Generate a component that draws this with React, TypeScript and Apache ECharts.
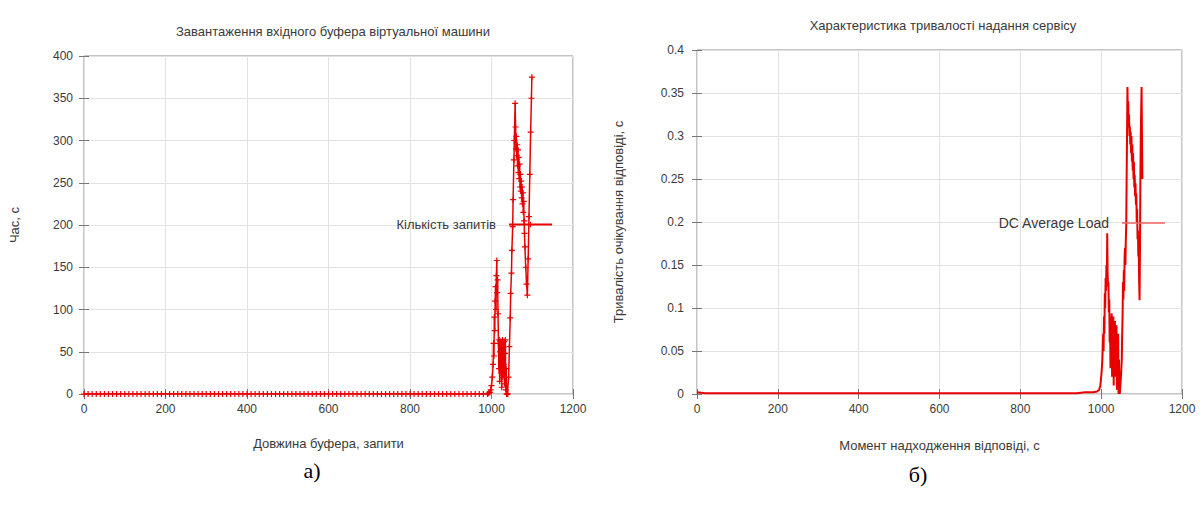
import React, { useEffect, useRef } from "react";
import * as echarts from "echarts";

// ---------- data ----------
const leftTitle = "Завантаження вхідного буфера віртуальної машини";
const rightTitle = "Характеристика тривалості надання сервісу";
const leftXName = "Довжина буфера, запити";
const leftYName = "Час, с";
const rightXName = "Момент надходження відповіді, с";
const rightYName = "Тривалість очікування відповіді, с";
const leftSeriesName = "Кількість запитів";
const rightSeriesName = "DC Average Load";
const panelLabels = ["а)", "б)"];

// buffer load (left panel): [request index, time s]
const bufferBaseline: number[][] = [
  [0, 0], [10, 0], [20, 0], [30, 0], [40, 0], [50, 0], [60, 0], [70, 0], [80, 0], [90, 0],
  [100, 0], [110, 0], [120, 0], [130, 0], [140, 0], [150, 0], [160, 0], [170, 0], [180, 0], [190, 0],
  [200, 0], [210, 0], [220, 0], [230, 0], [240, 0], [250, 0], [260, 0], [270, 0], [280, 0], [290, 0],
  [300, 0], [310, 0], [320, 0], [330, 0], [340, 0], [350, 0], [360, 0], [370, 0], [380, 0], [390, 0],
  [400, 0], [410, 0], [420, 0], [430, 0], [440, 0], [450, 0], [460, 0], [470, 0], [480, 0], [490, 0],
  [500, 0], [510, 0], [520, 0], [530, 0], [540, 0], [550, 0], [560, 0], [570, 0], [580, 0], [590, 0],
  [600, 0], [610, 0], [620, 0], [630, 0], [640, 0], [650, 0], [660, 0], [670, 0], [680, 0], [690, 0],
  [700, 0], [710, 0], [720, 0], [730, 0], [740, 0], [750, 0], [760, 0], [770, 0], [780, 0], [790, 0],
  [800, 0], [810, 0], [820, 0], [830, 0], [840, 0], [850, 0], [860, 0], [870, 0], [880, 0], [890, 0],
  [900, 0], [910, 0], [920, 0], [930, 0], [940, 0], [950, 0], [960, 0], [970, 0], [980, 0], [990, 0],
];
const bufferSpike: number[][] = [
  [993, 1], [996, 2], [998, 5], [1000, 10], [1002, 20], [1004, 35], [1005, 60], [1006, 45],
  [1007, 91], [1008, 75], [1009, 110], [1010, 127], [1011, 100], [1012, 140], [1013, 158],
  [1014, 120], [1015, 135], [1016, 95], [1017, 60], [1018, 30], [1019, 64], [1020, 15],
  [1021, 50], [1022, 62], [1023, 25], [1024, 58], [1025, 8], [1026, 45], [1027, 64], [1028, 20],
  [1029, 55], [1030, 35], [1031, 62], [1032, 12], [1033, 48], [1034, 64], [1035, 5], [1036, 30],
  [1037, 0], [1038, 0], [1039, 0], [1040, 0], [1042, 20], [1044, 56], [1046, 90], [1047, 119],
  [1049, 143], [1050, 170], [1052, 198], [1053, 230], [1055, 277], [1056, 300], [1058, 344],
  [1059, 316], [1060, 290], [1061, 305], [1062, 282], [1063, 295], [1064, 270], [1065, 289],
  [1066, 262], [1067, 280], [1068, 255], [1069, 272], [1070, 245], [1071, 260], [1072, 240],
  [1073, 252], [1074, 232], [1075, 245], [1076, 225], [1077, 238], [1078, 215], [1079, 228],
  [1080, 205], [1081, 190], [1082, 174], [1084, 150], [1086, 130], [1088, 117], [1090, 160],
  [1092, 210], [1094, 260], [1096, 310], [1098, 350], [1099, 375],
];

// service duration (right panel): [arrival moment s, wait s]
const serviceBaseline: number[][] = [
  [0, 0.002], [20, 0.001], [40, 0.001], [60, 0.001], [80, 0.001], [100, 0.001], [120, 0.001],
  [140, 0.001], [160, 0.001], [180, 0.001], [200, 0.001], [220, 0.001], [240, 0.001], [260, 0.001],
  [280, 0.001], [300, 0.001], [320, 0.001], [340, 0.001], [360, 0.001], [380, 0.001], [400, 0.001],
  [420, 0.001], [440, 0.001], [460, 0.001], [480, 0.001], [500, 0.001], [520, 0.001], [540, 0.001],
  [560, 0.001], [580, 0.001], [600, 0.001], [620, 0.001], [640, 0.001], [660, 0.001], [680, 0.001],
  [700, 0.001], [720, 0.001], [740, 0.001], [760, 0.001], [780, 0.001], [800, 0.001], [820, 0.001],
  [840, 0.001], [860, 0.001], [880, 0.001], [900, 0.001], [920, 0.001], [940, 0.001], [960, 0.002],
  [980, 0.002],
];
const serviceSpike: number[][] = [
  [990, 0.003], [995, 0.005], [998, 0.01], [1001, 0.025], [1003, 0.04], [1005, 0.07], [1006, 0.05],
  [1007, 0.09], [1008, 0.07], [1009, 0.117], [1010, 0.1], [1011, 0.135], [1012, 0.12], [1013, 0.15],
  [1014, 0.13], [1015, 0.187], [1016, 0.14], [1017, 0.125], [1018, 0.13], [1019, 0.095], [1020, 0.11],
  [1021, 0.06], [1022, 0.09], [1023, 0.03], [1024, 0.085], [1025, 0.05], [1026, 0.094], [1027, 0.02],
  [1028, 0.08], [1029, 0.04], [1030, 0.09], [1031, 0.01], [1032, 0.075], [1033, 0.05], [1034, 0.085],
  [1035, 0.02], [1036, 0.07], [1037, 0.04], [1038, 0.08], [1039, 0.005], [1040, 0.06], [1041, 0.03],
  [1042, 0.07], [1043, 0.0], [1044, 0.04], [1045, 0.01], [1046, 0.0], [1047, 0.0], [1049, 0.02],
  [1051, 0.04], [1052, 0.07], [1053, 0.09], [1054, 0.13], [1055, 0.11], [1056, 0.144], [1057, 0.12],
  [1058, 0.16], [1059, 0.17], [1060, 0.15], [1061, 0.18], [1062, 0.195], [1063, 0.25], [1064, 0.3],
  [1065, 0.357], [1066, 0.33], [1067, 0.34], [1068, 0.31], [1069, 0.325], [1070, 0.3], [1071, 0.311],
  [1072, 0.29], [1073, 0.305], [1074, 0.28], [1075, 0.3], [1076, 0.27], [1077, 0.29], [1078, 0.26],
  [1079, 0.28], [1080, 0.25], [1081, 0.27], [1082, 0.24], [1083, 0.255], [1084, 0.23], [1085, 0.245],
  [1086, 0.22], [1087, 0.233], [1088, 0.2], [1089, 0.215], [1090, 0.18], [1091, 0.19], [1092, 0.16],
  [1093, 0.17], [1094, 0.13], [1095, 0.109], [1096, 0.167], [1097, 0.25], [1098, 0.3], [1099, 0.33],
  [1100, 0.357], [1101, 0.3], [1102, 0.25],
];

const leftX = { min: 0, max: 1200, interval: 200 };
const leftY = { min: 0, max: 400, interval: 50 };
const rightX = { min: 0, max: 1200, interval: 200 };
const rightY = { min: 0, max: 0.4, interval: 0.05 };

// ---------- styles ----------
const FONT = "Liberation Sans";
const TXT = "#3a3a3a";
const RED = "#e80000";
const plus = "path://M4,0H6V4H10V6H6V10H4V6H0V4H4Z";

const plain = (v: number) => String(v);

function mainX(grid: number, sc: any, name: string, gap: number) {
  return {
    type: "value", gridIndex: grid, ...sc, position: "bottom",
    name, nameLocation: "middle", nameGap: gap,
    nameTextStyle: { fontFamily: FONT, fontSize: 13, color: TXT },
    axisLine: { show: false },
    axisTick: { show: true, inside: true, length: 5, lineStyle: { color: "#777" } },
    axisLabel: { fontFamily: FONT, fontSize: 12, color: TXT, margin: 9, formatter: plain },
    splitLine: { show: true, lineStyle: { color: "#e2e2e2", width: 1 } },
  };
}
function mirrorX(grid: number, sc: any) {
  return {
    type: "value", gridIndex: grid, ...sc, position: "top",
    axisLine: { show: false },
    axisTick: { show: true, inside: true, length: 5, lineStyle: { color: "#777" } },
    axisLabel: { show: false }, splitLine: { show: false },
  };
}
function mainY(grid: number, sc: any, name: string, gap: number, margin: number, fmt?: any) {
  return {
    type: "value", gridIndex: grid, ...sc, position: "left",
    name, nameLocation: "middle", nameGap: gap, nameRotate: 90,
    nameTextStyle: { fontFamily: FONT, fontSize: 13, color: TXT },
    axisLine: { show: false },
    axisTick: { show: true, inside: true, length: 5, lineStyle: { color: "#777" } },
    axisLabel: { fontFamily: FONT, fontSize: 12, color: TXT, margin, formatter: fmt || plain },
    splitLine: { show: true, lineStyle: { color: "#e2e2e2", width: 1 } },
  };
}
function mirrorY(grid: number, sc: any) {
  return {
    type: "value", gridIndex: grid, ...sc, position: "right",
    axisLine: { show: false },
    axisTick: { show: true, inside: true, length: 5, lineStyle: { color: "#777" } },
    axisLabel: { show: false }, splitLine: { show: false },
  };
}

export default function App() {
  const ref = useRef<HTMLDivElement>(null);
  useEffect(() => {
    if (!ref.current) return;
    const chart = echarts.init(ref.current, undefined, { renderer: "svg" });
    const option: any = {
      animation: false,
      backgroundColor: "#ffffff",
      title: [
        { text: leftTitle, left: 328, top: 20, textAlign: "center",
          textStyle: { fontFamily: FONT, fontSize: 13, fontWeight: "normal", color: TXT } },
        { text: rightTitle, left: 938, top: 14, textAlign: "center",
          textStyle: { fontFamily: FONT, fontSize: 13, fontWeight: "normal", color: TXT } },
      ],
      grid: [
        { left: 84, top: 56, width: 489, height: 338, show: true, borderColor: "#8a8a8a", borderWidth: 1, backgroundColor: "transparent" },
        { left: 697, top: 50, width: 485, height: 344, show: true, borderColor: "#8a8a8a", borderWidth: 1, backgroundColor: "transparent" },
      ],
      xAxis: [
        mainX(0, leftX, leftXName, 43),
        mainX(1, rightX, rightXName, 45),
        mirrorX(0, leftX),
        mirrorX(1, rightX),
      ],
      yAxis: [
        mainY(0, leftY, leftYName, 63, 11),
        mainY(1, rightY, rightYName, 72, 13, (v: number) => String(Math.round(v * 100) / 100)),
        mirrorY(0, leftY),
        mirrorY(1, rightY),
      ],
      legend: [
        { data: [leftSeriesName], right: 651, top: 218, align: "right", orient: "horizontal",
          padding: 0, itemWidth: 43, itemHeight: 7,
          textStyle: { fontFamily: FONT, fontSize: 13, color: TXT, padding: [0, 8, 0, 0] } },
        { data: [{ name: rightSeriesName, icon: "rect" }], right: 39, top: 216, align: "right", orient: "horizontal",
          padding: 0, itemWidth: 43, itemHeight: 1.5,
          itemStyle: { color: "#f06060" },
          textStyle: { fontFamily: FONT, fontSize: 14, color: TXT, padding: [0, 8, 0, 0] } },
      ],
      series: [
        {
          name: leftSeriesName, type: "line", xAxisIndex: 0, yAxisIndex: 0,
          data: [...bufferBaseline, ...bufferSpike],
          symbol: plus, symbolSize: 6, showSymbol: true,
          lineStyle: { color: RED, width: 1.5 },
          itemStyle: { color: RED },
        },
        {
          name: rightSeriesName, type: "line", xAxisIndex: 1, yAxisIndex: 1,
          data: [...serviceBaseline, ...serviceSpike],
          symbol: "none", showSymbol: false,
          lineStyle: { color: RED, width: 2 },
          itemStyle: { color: RED },
        },
      ],
      graphic: [
        { type: "text", x: 312, y: 470,
          style: { text: panelLabels[0], font: '22px "Liberation Serif"', fill: "#000", align: "center", verticalAlign: "middle" } },
        { type: "text", x: 918, y: 474,
          style: { text: panelLabels[1], font: '22px "Liberation Serif"', fill: "#000", align: "center", verticalAlign: "middle" } },
      ],
    };
    chart.setOption(option);
    return () => chart.dispose();
  }, []);
  return (
    <div
      ref={ref}
      style={{ position: "fixed", left: 0, top: 0, width: 1204, height: 510, background: "#fff" }}
    />
  );
}
